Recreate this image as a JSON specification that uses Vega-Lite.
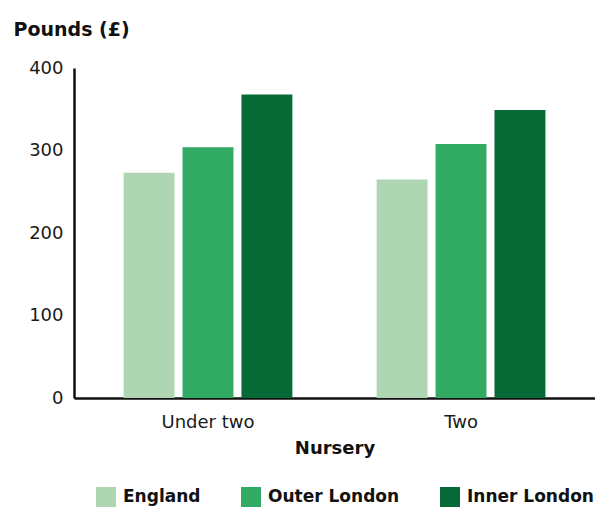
{
  "$schema": "https://vega.github.io/schema/vega-lite/v6.json",
  "autosize": {"type": "none"},
  "padding": {"left": 74, "top": 68, "right": 0, "bottom": 109},
  "width": 521,
  "height": 330,
  "background": "white",
  "data": {
    "values": [
      {"age": "Under two", "area": "England", "cost": 273},
      {"age": "Under two", "area": "Outer London", "cost": 304},
      {"age": "Under two", "area": "Inner London", "cost": 368},
      {"age": "Two", "area": "England", "cost": 265},
      {"age": "Two", "area": "Outer London", "cost": 308},
      {"age": "Two", "area": "Inner London", "cost": 349}
    ]
  },
  "mark": {"type": "bar", "stroke": null},
  "encoding": {
    "x": {
      "field": "age",
      "type": "nominal",
      "sort": ["Under two", "Two"],
      "scale": {"paddingInner": 0.333, "paddingOuter": 0.196},
      "axis": {
        "title": "Nursery",
        "labelAngle": 0,
        "ticks": false,
        "tickSize": 0,
        "labelPadding": 15,
        "labelFont": "DejaVu Sans",
        "labelFontSize": 18,
        "labelColor": "#1a1a1a",
        "domainColor": "#111111",
        "domainWidth": 2.5,
        "titleFont": "DejaVu Sans",
        "titleFontSize": 18,
        "titleFontWeight": "bold",
        "titleColor": "#111111",
        "titleBaseline": "alphabetic",
        "titleY": 55
      }
    },
    "xOffset": {
      "field": "area",
      "type": "nominal",
      "sort": ["England", "Outer London", "Inner London"],
      "scale": {"paddingInner": 0.136, "paddingOuter": 0}
    },
    "y": {
      "field": "cost",
      "type": "quantitative",
      "scale": {"domain": [0, 400], "nice": false},
      "axis": {
        "title": "Pounds (£)",
        "values": [0, 100, 200, 300, 400],
        "grid": false,
        "ticks": false,
        "tickSize": 0,
        "labelPadding": 11,
        "labelFont": "DejaVu Sans",
        "labelFontSize": 18,
        "labelColor": "#1a1a1a",
        "domainColor": "#111111",
        "domainWidth": 2.5,
        "titleFont": "DejaVu Sans",
        "titleFontSize": 19,
        "titleFontWeight": "bold",
        "titleColor": "#111111",
        "titleAngle": 0,
        "titleAlign": "left",
        "titleBaseline": "alphabetic",
        "titleX": -61,
        "titleY": -33
      }
    },
    "color": {
      "field": "area",
      "type": "nominal",
      "sort": ["England", "Outer London", "Inner London"],
      "scale": {
        "domain": ["England", "Outer London", "Inner London"],
        "range": ["#aed6b3", "#31ab64", "#076935"]
      },
      "legend": {
        "title": null,
        "orient": "none",
        "direction": "horizontal",
        "legendX": 22,
        "legendY": 419,
        "padding": 0,
        "symbolType": "square",
        "symbolSize": 400,
        "symbolStrokeWidth": 0,
        "labelOffset": 7,
        "columnPadding": 40,
        "labelFont": "DejaVu Sans",
        "labelFontSize": 17,
        "labelFontWeight": "bold",
        "labelColor": "#111111",
        "labelLimit": 300
      }
    }
  },
  "config": {
    "view": {"stroke": null}
  }
}
